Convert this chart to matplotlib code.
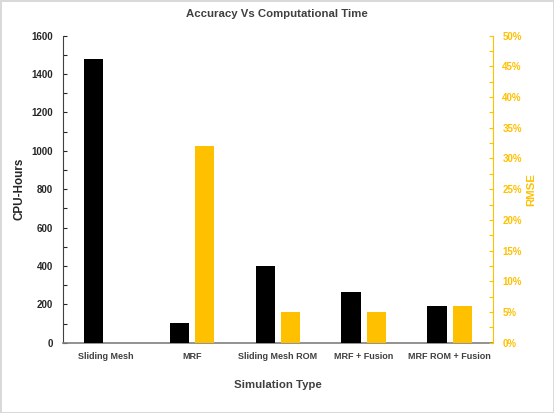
import matplotlib
matplotlib.use("Agg")
import matplotlib.pyplot as plt
import numpy as np
from matplotlib.ticker import MultipleLocator, PercentFormatter

categories = ["Sliding Mesh", "MRF", "Sliding Mesh ROM", "MRF + Fusion", "MRF ROM + Fusion"]
cpu_hours = [1478, 101, 400, 262, 190]
rmse = [np.nan, 0.32, 0.05, 0.05, 0.059]

plt.rcParams['font.family'] = ['Liberation Sans', 'DejaVu Sans']

fig = plt.figure(figsize=(5.54, 4.13), dpi=100)
fig.patch.set_edgecolor('#d9d9d9')
fig.patch.set_linewidth(2)
ax = fig.add_axes([0.1132, 0.1702, 0.7758, 0.7434])
ax2 = ax.twinx()

x = np.arange(len(categories))
w = 0.222
off = 0.146
gold = '#FFC000'
dark = '#404040'

ax.bar(x - off, cpu_hours, width=w, color='black', zorder=3)
ax2.bar(x + off, rmse, width=w, color=gold, zorder=3)

ax.set_xlim(-0.5, len(categories) - 0.5)
ax.set_ylim(0, 1600)
ax2.set_ylim(0, 0.5)
ax.yaxis.set_major_locator(MultipleLocator(200))
ax.yaxis.set_minor_locator(MultipleLocator(100))
ax2.yaxis.set_major_locator(MultipleLocator(0.05))
ax2.yaxis.set_minor_locator(MultipleLocator(0.025))
ax2.yaxis.set_major_formatter(PercentFormatter(1.0, decimals=0))

ax.set_xticks(x)
ax.set_xticklabels(categories, fontsize=6.5, color=dark, fontweight='bold')
ax.tick_params(axis='x', length=0, pad=7)
ax.tick_params(axis='y', which='both', length=3, width=0.8, colors='#262626',
               labelsize=7, direction='in', pad=7)
ax2.tick_params(axis='y', which='both', length=3, width=0.8, colors=gold,
                labelsize=7, direction='in', pad=7)
for lbl in ax.get_yticklabels() + ax2.get_yticklabels():
    lbl.set_fontweight('bold')

for a in (ax, ax2):
    a.spines['top'].set_visible(False)
ax.spines['right'].set_visible(False)
ax2.spines['left'].set_visible(False)
ax2.spines['bottom'].set_visible(False)
ax.spines['left'].set_color('#404040')
ax.spines['bottom'].set_color('#7f7f7f')
ax.spines['bottom'].set_linewidth(1.2)
ax2.spines['right'].set_color(gold)

axw = 0.7758 * 554
axh = 0.7434 * 413
ax.set_ylabel("CPU-Hours", fontsize=8.4, fontweight='bold', color='#262626')
ax.yaxis.set_label_coords((25.5 - 62.7) / axw, 0.5)
ax2.set_ylabel("RMSE", fontsize=8.2, fontweight='bold', color=gold)
ax2.yaxis.set_label_coords((526 - 62.7) / axw, 0.5)
ax.set_xlabel("Simulation Type", fontsize=8.2, fontweight='bold', color=dark)
ax.xaxis.set_label_coords(0.5, -(379.5 - 342.7) / axh)
fig.text(0.5, 1 - 14 / 413, "Accuracy Vs Computational Time", ha='center', va='center',
         fontsize=8.2, fontweight='bold', color=dark)

fig.savefig("out.png", dpi=100)
